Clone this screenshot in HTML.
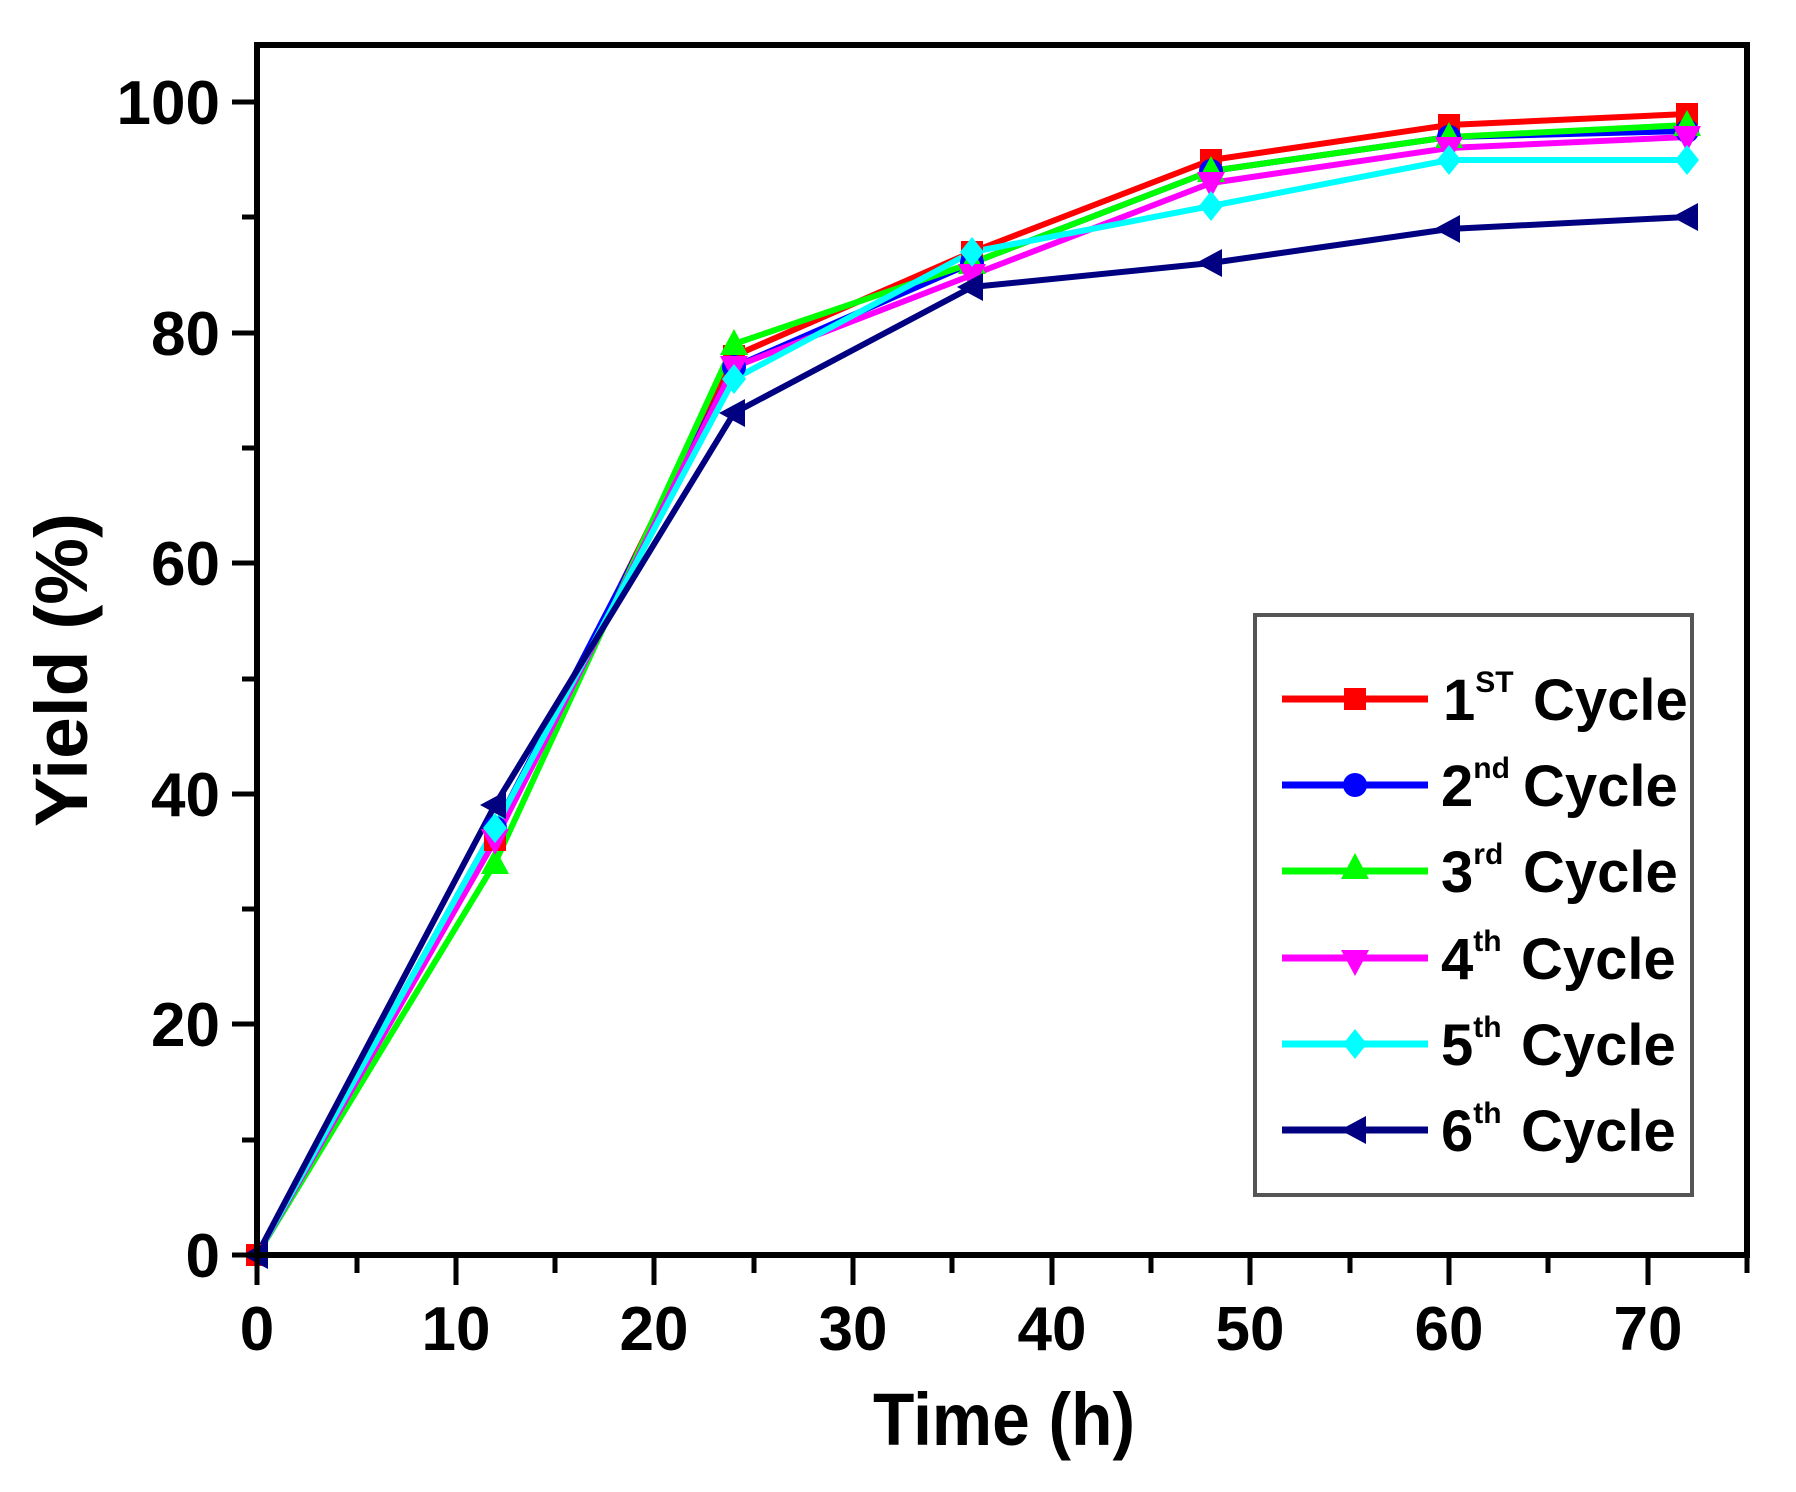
<!DOCTYPE html>
<html><head><meta charset="utf-8"><style>html,body{margin:0;padding:0;background:#fff}svg{display:block}</style></head>
<body>
<svg width="1796" height="1492" xmlns="http://www.w3.org/2000/svg" font-family="Liberation Sans, Arial, sans-serif" font-weight="bold">
<rect width="1796" height="1492" fill="#fff"/>
<defs>
<g id="sq"><rect x="-11" y="-11" width="22" height="22"/></g>
<g id="ci"><circle r="12"/></g>
<g id="tu"><polygon points="0,-15 14,11 -14,11"/></g>
<g id="td"><polygon points="0,15 14,-11 -14,-11"/></g>
<g id="di"><polygon points="0,-15 12,0 0,15 -12,0"/></g>
<g id="tl"><polygon points="-15,0 11,-14 11,14"/></g>
</defs>
<g fill="none" stroke-width="6" stroke-linejoin="round">
<polyline stroke="#ff0000" points="257,1255 495,840 734,356 972,252 1211,160 1449,125 1687,114"/>
<polyline stroke="#0000ff" points="257,1255 495,828 734,367 972,263 1211,171 1449,137 1687,131"/>
<polyline stroke="#00ff00" points="257,1255 495,863 734,344 972,263 1211,171 1449,137 1687,125"/>
<polyline stroke="#ff00ff" points="257,1255 495,840 734,367 972,275 1211,183 1449,148 1687,137"/>
<polyline stroke="#00ffff" points="257,1255 495,828 734,379 972,252 1211,206 1449,160 1687,160"/>
<polyline stroke="#000080" points="257,1255 495,805 734,413 972,287 1211,263 1449,229 1687,217"/>
</g>
<g fill="#ff0000"><use href="#sq" x="257" y="1255"/><use href="#sq" x="495" y="840"/><use href="#sq" x="734" y="356"/><use href="#sq" x="972" y="252"/><use href="#sq" x="1211" y="160"/><use href="#sq" x="1449" y="125"/><use href="#sq" x="1687" y="114"/></g>
<g fill="#0000ff"><use href="#ci" x="495" y="828"/><use href="#ci" x="734" y="367"/><use href="#ci" x="972" y="263"/><use href="#ci" x="1211" y="171"/><use href="#ci" x="1449" y="137"/><use href="#ci" x="1687" y="131"/></g>
<g fill="#00ff00"><use href="#tu" x="495" y="863"/><use href="#tu" x="734" y="344"/><use href="#tu" x="972" y="263"/><use href="#tu" x="1211" y="171"/><use href="#tu" x="1449" y="137"/><use href="#tu" x="1687" y="125"/></g>
<g fill="#ff00ff"><use href="#td" x="495" y="840"/><use href="#td" x="734" y="367"/><use href="#td" x="972" y="275"/><use href="#td" x="1211" y="183"/><use href="#td" x="1449" y="148"/><use href="#td" x="1687" y="137"/></g>
<g fill="#00ffff"><use href="#di" x="495" y="828"/><use href="#di" x="734" y="379"/><use href="#di" x="972" y="252"/><use href="#di" x="1211" y="206"/><use href="#di" x="1449" y="160"/><use href="#di" x="1687" y="160"/></g>
<g fill="#000080"><use href="#tl" x="495" y="805"/><use href="#tl" x="734" y="413"/><use href="#tl" x="972" y="287"/><use href="#tl" x="1211" y="263"/><use href="#tl" x="1449" y="229"/><use href="#tl" x="1687" y="217"/><use href="#tl" x="257" y="1255"/></g>
<rect x="257" y="45" width="1490" height="1210" fill="none" stroke="#000" stroke-width="6"/>
<g stroke="#000" stroke-width="5">
<line x1="257" y1="1255" x2="257" y2="1285"/><line x1="456" y1="1255" x2="456" y2="1285"/><line x1="654" y1="1255" x2="654" y2="1285"/><line x1="853" y1="1255" x2="853" y2="1285"/><line x1="1052" y1="1255" x2="1052" y2="1285"/><line x1="1250" y1="1255" x2="1250" y2="1285"/><line x1="1449" y1="1255" x2="1449" y2="1285"/><line x1="1648" y1="1255" x2="1648" y2="1285"/>
<line x1="357" y1="1255" x2="357" y2="1273"/><line x1="555" y1="1255" x2="555" y2="1273"/><line x1="754" y1="1255" x2="754" y2="1273"/><line x1="952" y1="1255" x2="952" y2="1273"/><line x1="1151" y1="1255" x2="1151" y2="1273"/><line x1="1350" y1="1255" x2="1350" y2="1273"/><line x1="1548" y1="1255" x2="1548" y2="1273"/><line x1="1747" y1="1255" x2="1747" y2="1273"/>
<line x1="232" y1="1255" x2="257" y2="1255"/><line x1="232" y1="1024" x2="257" y2="1024"/><line x1="232" y1="794" x2="257" y2="794"/><line x1="232" y1="563" x2="257" y2="563"/><line x1="232" y1="333" x2="257" y2="333"/><line x1="232" y1="102" x2="257" y2="102"/>
<line x1="242" y1="1140" x2="257" y2="1140"/><line x1="242" y1="909" x2="257" y2="909"/><line x1="242" y1="679" x2="257" y2="679"/><line x1="242" y1="448" x2="257" y2="448"/><line x1="242" y1="217" x2="257" y2="217"/>
</g>
<g font-size="62" text-anchor="middle" fill="#000">
<text x="257" y="1350">0</text><text x="456" y="1350">10</text><text x="654" y="1350">20</text><text x="853" y="1350">30</text><text x="1052" y="1350">40</text><text x="1250" y="1350">50</text><text x="1449" y="1350">60</text><text x="1648" y="1350">70</text>
</g>
<g font-size="62" text-anchor="end" fill="#000">
<text x="220" y="1277">0</text><text x="220" y="1046">20</text><text x="220" y="816">40</text><text x="220" y="585">60</text><text x="220" y="355">80</text><text x="220" y="124">100</text>
</g>
<text x="873" y="1445" font-size="74" textLength="262" lengthAdjust="spacingAndGlyphs">Time (h)</text>
<text transform="translate(87,827) rotate(-90)" font-size="74" textLength="314" lengthAdjust="spacingAndGlyphs">Yield (%)</text>
<rect x="1255" y="615" width="437" height="580" fill="#fff" stroke="#555" stroke-width="4"/>
<g stroke-width="7">
<line x1="1282" y1="699" x2="1428" y2="699" stroke="#ff0000"/>
<line x1="1282" y1="785" x2="1428" y2="785" stroke="#0000ff"/>
<line x1="1282" y1="871" x2="1428" y2="871" stroke="#00ff00"/>
<line x1="1282" y1="958" x2="1428" y2="958" stroke="#ff00ff"/>
<line x1="1282" y1="1044" x2="1428" y2="1044" stroke="#00ffff"/>
<line x1="1282" y1="1130" x2="1428" y2="1130" stroke="#000080"/>
</g>
<use href="#sq" x="1355" y="699" fill="#ff0000"/>
<use href="#ci" x="1355" y="785" fill="#0000ff"/>
<use href="#tu" x="1355" y="868" fill="#00ff00"/>
<use href="#td" x="1355" y="961" fill="#ff00ff"/>
<use href="#di" x="1355" y="1044" fill="#00ffff"/>
<use href="#tl" x="1355" y="1130" fill="#000080"/>
<g font-size="58" fill="#000">
<text x="1443" y="720">1<tspan font-size="30" dy="-28">ST</tspan><tspan dy="28" x="1533">Cycle</tspan></text>
<text x="1441" y="806">2<tspan font-size="30" dy="-28">nd</tspan><tspan dy="28" x="1523">Cycle</tspan></text>
<text x="1441" y="892">3<tspan font-size="30" dy="-28">rd</tspan><tspan dy="28" x="1523">Cycle</tspan></text>
<text x="1441" y="979">4<tspan font-size="30" dy="-28">th</tspan><tspan dy="28" x="1521">Cycle</tspan></text>
<text x="1441" y="1065">5<tspan font-size="30" dy="-28">th</tspan><tspan dy="28" x="1521">Cycle</tspan></text>
<text x="1441" y="1151">6<tspan font-size="30" dy="-28">th</tspan><tspan dy="28" x="1521">Cycle</tspan></text>
</g>
</svg>
</body></html>
